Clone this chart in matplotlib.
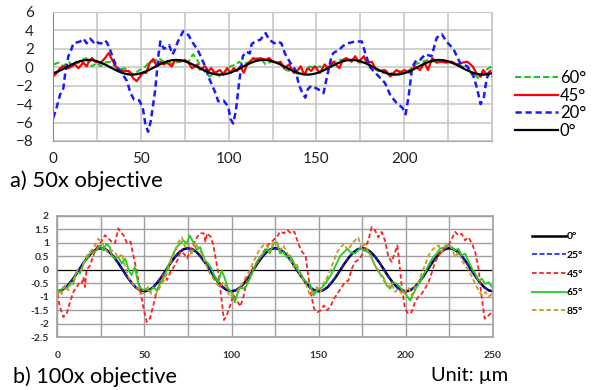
import matplotlib
matplotlib.use("Agg")
import matplotlib.pyplot as plt

plt.rcParams['font.family'] = ['Lato', 'DejaVu Sans']

# ---------- a) 50x objective ----------
top_labels = ['60°', '45°', '20°', '0°']

# 0 deg reference (step 2.5 um)
x0_top = [i * 2.5 for i in range(101)]
y0_top = [-0.65, -0.47, -0.25, 0.0, 0.25, 0.47, 0.65, 0.76, 0.8, 0.76,
          0.65, 0.47, 0.25, 0.0, -0.25, -0.47, -0.65, -0.76, -0.8, -0.76,
          -0.65, -0.47, -0.25, 0.0, 0.25, 0.47, 0.65, 0.76, 0.8, 0.76,
          0.65, 0.47, 0.25, 0.0, -0.25, -0.47, -0.65, -0.76, -0.8, -0.76,
          -0.65, -0.47, -0.25, 0.0, 0.25, 0.47, 0.65, 0.76, 0.8, 0.76,
          0.65, 0.47, 0.25, 0.0, -0.25, -0.47, -0.65, -0.76, -0.8, -0.76,
          -0.65, -0.47, -0.25, 0.0, 0.25, 0.47, 0.65, 0.76, 0.8, 0.76,
          0.65, 0.47, 0.25, 0.0, -0.25, -0.47, -0.65, -0.76, -0.8, -0.76,
          -0.65, -0.47, -0.25, 0.0, 0.25, 0.47, 0.65, 0.76, 0.8, 0.76,
          0.65, 0.47, 0.25, 0.0, -0.25, -0.47, -0.65, -0.76, -0.8, -0.76,
          -0.65]

x20_top = [0, 2, 3.8, 5.7, 6.7, 8.6, 10, 11.5, 13.5, 15.3, 17.3, 19, 21, 23, 24, 26, 27.5,
           29.5, 30.5, 32, 34, 36, 39, 42, 44, 46, 49, 51, 52.5, 54, 55.5, 58, 60, 61, 63,
           65, 66, 68, 69.5, 71, 74, 77, 79, 80.8, 82, 84, 86.5, 89, 92, 94, 97, 99, 100,
           101, 102.5, 104, 106, 108, 110, 112, 113, 115, 118, 121, 123, 126, 128, 130,
           132, 135, 138, 140, 142, 143.6, 145, 147, 150, 152, 154, 156, 158.7, 160, 163,
           165, 168, 172, 175.8, 177.7, 180.5, 183, 186, 189, 192, 195.7, 199, 200.8,
           202.6, 204.5, 207, 209, 212, 215.6, 218.5, 221.4, 224, 228, 232, 236, 239.5,
           241.5, 243.5, 245.3, 247, 248.6, 250]
y20_top = [-5.5, -4.3, -3.0, -2.3, -0.8, 1.2, 1.8, 2.6, 2.7, 2.8, 3.1, 2.6, 3.1, 2.7, 2.9, 2.6, 2.6,
           2.9, 2.7, 2.1, 1.0, 0.1, -0.6, -1.5, -2.8, -3.5, -3.6, -4.4, -6.2, -7.0, -5.9, -2.6, 1.4,
           2.8, 2.0, 2.2, 2.4, 1.4, 2.0, 2.8, 3.9, 3.5, 2.8, 2.3, 2.0, 1.2, 0.1, -1.3, -2.6, -3.7,
           -3.6, -4.1, -4.6, -5.6, -6.1, -4.8, -1.5, 1.2, 1.7, 1.5, 2.5, 2.8, 3.0, 3.7, 3.0, 2.6,
           2.8, 2.6, 1.5, 0.5, -0.3, -1.9, -2.8, -3.3, -2.4, -2.0, -2.3, -2.5, -2.8, -1.0, 1.3,
           1.6, 1.9, 2.3, 2.6, 2.8, 2.8, 1.6, 0.0, -0.5, -1.1, -1.7, -3.0, -3.9, -4.4, -5.1, -3.0,
           0.0, 0.8, 0.8, 1.4, 1.2, 3.2, 3.6, 2.8, 2.0, 0.4, 0.1, -1.0, -2.3, -4.0, -3.3, -1.2,
           -0.6, -1.0]

x45_top = [0, 2, 3.8, 5.7, 8.6, 10.5, 12.4, 14.3, 17.1, 19, 20, 22, 24, 27, 29.5, 31.6, 33.5,
           35, 37, 40, 43, 45.6, 47.5, 49.5, 51, 53, 55, 57, 59, 61, 63, 64.6, 67.5, 69.5, 72,
           75, 77, 79, 80.8, 82, 83.6, 86.5, 88.4, 90, 92, 95, 97, 99, 101, 102.8, 104.7, 106.6,
           108.5, 110.5, 112, 114, 116, 118, 121, 123, 125, 128, 129.5, 131.5, 134.4, 137, 139,
           141, 143, 145, 147, 149, 152, 154.6, 156.5, 159.5, 161, 163, 165, 167, 170, 172,
           174, 177, 178.6, 181.5, 183.5, 186, 189, 192, 194, 195.7, 197.6, 200, 203, 206,
           209, 211.6, 213.5, 216, 218.4, 221, 224, 227, 230, 233, 236, 239, 241, 243.4, 245,
           247, 249]
y45_top = [-1.0, -0.6, -0.1, 0.1, -0.1, 0.1, 0.3, -0.1, 0.5, 0.1, 0.5, 1.0, 0.6, 0.5, 1.0, 1.55,
           0.8, 0.3, -0.25, -0.4, -0.4, -1.2, -1.5, -1.0, -0.6, -0.6, 0.5, 0.9, 0.1, 0.6, 0.3,
           0.5, 0.1, 0.8, 0.6, 0.8, 0.5, -0.1, 0.1, 0.3, -0.25, 0.1, -0.4, -0.1, -0.6, -0.3, -0.8,
           -0.1, -0.6, -0.1, -0.4, 0.1, -0.6, 0.3, 0.6, 1.0, 0.8, 1.0, 0.8, 1.0, 0.6, 0.5, 0.6,
           -0.1, 0.3, -0.6, -0.4, 0.1, -0.8, -0.1, -0.4, 0.1, -0.6, 0.3, -0.1, 0.6, 0.3, -0.1,
           0.8, 1.0, 0.6, 1.2, 0.6, 1.2, 0.5, 0.6, -0.1, -0.4, -0.3, -1.0, -0.6, -0.3, -0.6,
           -0.3, -0.6, 0.1, -0.3, 0.5, -0.3, 1.0, 0.5, 0.6, 0.5, 0.6, 0.3, 0.5, 0.6, 0.1, -0.6,
           -1.0, -0.3, -0.8, -0.4]

x60_top = [0, 3, 5.7, 8.6, 11.5, 13, 16, 18, 20, 22, 25, 27, 29, 32, 35, 37.6, 40.5, 43, 46,
           49, 51.6, 54.5, 57, 60, 63, 66, 68.5, 71, 74, 77, 79.6, 81.5, 83.6, 86.5, 89, 92, 95,
           98, 101, 104, 106, 108, 110.5, 113, 116, 119, 121, 124, 127, 130, 132.5, 135, 138,
           141, 144, 146, 149, 152, 154.6, 157.5, 160.5, 163, 167, 171, 174.6, 177.7, 181.5,
           185, 188, 191, 194, 197, 200, 203, 206, 210, 214, 216, 220, 223, 227, 230, 233,
           237, 240, 243, 245, 248, 250]
y60_top = [0.3, 0.5, 0.1, 0.6, 0.1, 0.6, 0.3, 1.2, 0.6, 0.1, 0.5, 0.1, 0.5, 0.6, 0.1, -0.25,
           -0.1, -0.4, -0.8, -0.3, -0.1, 0.5, 0.6, 1.0, 0.6, 0.5, 0.3, 0.6, 0.8, 0.6, 1.4, 1.0,
           0.2, -0.5, -1.0, -0.6, -1.0, -0.4, 0.1, 0.3, 0.6, 0.3, 0.5, 0.6, 1.0, 0.8, 0.3, 0.6,
           0.5, 0.3, -0.3, -0.4, -0.6, -0.8, -0.6, 0.1, -0.1, 0.1, -0.3, 0.3, 0.6, 0.8, 0.8,
           0.8, 0.5, 0.6, 0.1, -0.4, -0.6, -0.4, -0.8, -0.4, -0.6, -0.3, 0.3, 0.6, 0.8, 0.6,
           0.8, 0.6, 0.5, 0.3, 0.1, -0.3, -0.8, -1.3, -0.6, -0.1, 0.1]

# ---------- b) 100x objective ----------
bot_labels = ['0°', '25°', '45°', '65°', '85°']

x0_bot = [i * 2.5 for i in range(101)]
y0_bot = [-0.8, -0.76, -0.65, -0.47, -0.25, 0.0, 0.25, 0.47, 0.65, 0.76,
          0.8, 0.76, 0.65, 0.47, 0.25, 0.0, -0.25, -0.47, -0.65, -0.76,
          -0.8, -0.76, -0.65, -0.47, -0.25, 0.0, 0.25, 0.47, 0.65, 0.76,
          0.8, 0.76, 0.65, 0.47, 0.25, 0.0, -0.25, -0.47, -0.65, -0.76,
          -0.8, -0.76, -0.65, -0.47, -0.25, 0.0, 0.25, 0.47, 0.65, 0.76,
          0.8, 0.76, 0.65, 0.47, 0.25, 0.0, -0.25, -0.47, -0.65, -0.76,
          -0.8, -0.76, -0.65, -0.47, -0.25, 0.0, 0.25, 0.47, 0.65, 0.76,
          0.8, 0.76, 0.65, 0.47, 0.25, 0.0, -0.25, -0.47, -0.65, -0.76,
          -0.8, -0.76, -0.65, -0.47, -0.25, 0.0, 0.25, 0.47, 0.65, 0.76,
          0.8, 0.76, 0.65, 0.47, 0.25, 0.0, -0.25, -0.47, -0.65, -0.76,
          -0.8]

x25_bot = [i * 2.5 for i in range(101)]
y25_bot = [-0.78, -0.75, -0.64, -0.46, -0.23, 0.02, 0.26, 0.48, 0.66, 0.77,
           0.79, 0.75, 0.63, 0.46, 0.23, -0.02, -0.26, -0.48, -0.66, -0.76,
           -0.79, -0.75, -0.63, -0.45, -0.23, 0.02, 0.26, 0.48, 0.66, 0.77,
           0.79, 0.75, 0.64, 0.46, 0.24, -0.01, -0.26, -0.48, -0.66, -0.77,
           -0.79, -0.75, -0.64, -0.46, -0.24, 0.01, 0.26, 0.48, 0.66, 0.77,
           0.79, 0.75, 0.64, 0.46, 0.24, -0.01, -0.26, -0.48, -0.66, -0.77,
           -0.79, -0.75, -0.64, -0.46, -0.24, 0.01, 0.26, 0.48, 0.66, 0.77,
           0.79, 0.75, 0.64, 0.46, 0.24, -0.01, -0.26, -0.48, -0.66, -0.77,
           -0.79, -0.75, -0.64, -0.46, -0.24, 0.01, 0.26, 0.48, 0.66, 0.77,
           0.79, 0.75, 0.64, 0.46, 0.24, -0.01, -0.26, -0.48, -0.66, -0.77,
           -0.79]

x45_bot = [0, 1.5, 3.5, 5.4, 7.3, 9.2, 11.1, 13, 14, 15, 15.9, 16.8, 18.8, 20.7, 22.6, 24.5,
           27.4, 29.3, 31.2, 33.1, 35, 36, 38, 40, 42, 44, 45.8, 47.8, 49.7, 51.3, 53.2, 55.4,
           57.4, 59.3, 61, 63, 65, 67, 69, 70.7, 72.6, 74.5, 76.5, 78.4, 80.3, 82, 84, 85, 86,
           88, 89.5, 90.5, 92.4, 94.3, 95.6, 97, 99, 101, 103, 105, 106.8, 108.7, 110.6, 112.5,
           115.4, 117.3, 119, 121, 123, 126, 128, 130, 132, 134, 136, 138.7, 140.6, 142.5,
           143.4, 145.4, 147.3, 149.2, 151.1, 153, 155, 157, 158.8, 160.7, 162.6, 165, 167,
           169, 170.8, 173.7, 176.5, 178.5, 180.4, 182.3, 184.2, 186.1, 188, 190, 191.9,
           193.8, 195.1, 196, 197.6, 199.5, 201.4, 203.3, 205.2, 207.2, 209, 211, 213, 215,
           216.8, 218.8, 221.6, 224.5, 226.4, 228.3, 230.2, 232, 234, 236, 238, 239.8, 241.7,
           243.6, 245.2, 247.5, 249.4, 250]
y45_bot = [-0.89, -1.38, -1.75, -1.63, -1.2, -0.83, -0.64, -0.45, -0.5, -0.27, -0.64, 0.0,
           0.16, 0.53, 0.84, 0.96, 1.28, 1.16, 1.04, 0.98, 1.53, 1.41, 1.28, 0.98, 1.04, 0.42,
           -0.13, -0.87, -1.49, -1.93, -1.8, -1.24, -0.75, -0.38, -0.2, -0.38, -0.07, 0.11,
           0.36, 0.67, 0.6, 0.42, 0.73, 0.98, 1.22, 1.35, 1.35, 1.04, 1.35, 1.22, 0.92, 0.55,
           -0.13, -1.12, -1.86, -1.73, -1.36, -0.93, -1.12, -1.36, -1.0, -0.44, -0.2, 0.11,
           0.3, 0.55, 0.73, 0.92, 1.04, 1.22, 1.41, 1.35, 1.47, 1.35, 1.41, 0.9, 0.65, 0.53,
           0.04, -0.83, -1.44, -1.57, -1.5, -1.32, -1.5, -1.32, -1.07, -0.89, -0.7, -0.46,
           -0.4, 0.04, 0.29, 0.41, 0.78, 1.09, 1.58, 1.46, 1.2, 1.4, 1.09, 0.47, 0.29, 0.65,
           0.9, 0.41, -0.58, -1.44, -1.63, -1.57, -1.2, -1.0, -0.89, -0.7, -0.46, -0.08, 0.29,
           0.53, 0.78, 0.9, 1.15, 1.4, 1.27, 1.33, 1.09, 1.2, 0.96, 0.65, 0.04, -1.07, -1.81,
           -1.69, -1.57, -1.57]

x65_bot = [0, 1.5, 3.5, 5.4, 7.3, 9.2, 11, 13, 15, 16.8, 18.8, 20.7, 22.6, 24.5, 26.4, 28.3,
           30.2, 31.2, 33, 35, 37, 39, 41, 42.6, 44.5, 46.5, 47.4, 49.4, 51.2, 53, 55, 57, 59,
           60.8, 62.7, 64.6, 66.6, 68.5, 70.4, 72.3, 74.2, 76, 78, 80, 81.9, 84.7, 86.6, 88.5,
           90.5, 92.4, 94.3, 96.2, 98, 100, 101.9, 103, 104.8, 106.7, 108.6, 110.5, 112.5,
           114.4, 116.3, 118.2, 120.1, 122, 124, 126, 127.8, 129.7, 131.6, 133.5, 135.5,
           137.4, 139.3, 141.2, 143, 145, 147, 149, 151, 153, 155, 157, 158.8, 160.7, 162.6,
           164.6, 166.5, 168, 170.8, 173.7, 176.5, 179.4, 181.3, 183.2, 185.1, 187, 189, 191,
           192.8, 194.7, 196.6, 198.6, 200.5, 202.4, 204.3, 206.2, 208.2, 210, 212, 214,
           215.8, 217.7, 219.6, 222.5, 224.5, 226.4, 228.3, 230.2, 232.1, 234, 236, 238,
           239.8, 241.7, 243.6, 245.6, 247.5, 249.4, 250]
y65_bot = [-0.76, -0.82, -0.64, -0.7, -0.52, -0.52, -0.08, -0.14, 0.23, 0.41, 0.6, 0.66, 0.72,
           0.9, 0.72, 0.96, 0.84, 0.53, 0.41, 0.47, 0.23, 0.41, -0.02, -0.2, 0.1, -0.52, -0.64,
           -0.76, -0.7, -0.82, -0.64, -0.76, -0.52, -0.33, -0.02, 0.29, 0.6, 0.84, 0.96, 1.09,
           0.96, 1.27, 1.02, 0.72, 0.84, 0.35, 0.23, 0.04, -0.27, -0.46, -0.02, -0.33, -0.7,
           -0.82, -1.2, -0.95, -0.64, -0.7, -0.58, -0.33, -0.02, 0.29, 0.47, 0.6, 0.78, 0.6,
           0.96, 1.02, 0.6, 0.66, 0.47, 0.53, 0.29, 0.04, -0.08, -0.33, -0.46, -0.52, -0.95,
           -0.76, -0.7, -0.58, -0.39, -0.2, 0.04, 0.29, 0.53, 0.66, 0.78, 0.66, 0.6, 0.78,
           0.72, 0.6, 0.29, 0.04, -0.14, -0.27, -0.58, -0.7, -0.46, -0.52, -0.64, -0.82, -0.95,
           -1.14, -0.89, -0.64, -0.46, -0.2, 0.04, 0.29, 0.47, 0.6, 0.78, 0.84, 0.9, 0.84,
           0.72, 0.78, 0.53, 0.6, 0.29, 0.04, -0.14, -0.39, -0.33, -0.52, -0.46, -0.64, -0.66]

x85_bot = [0, 1.5, 2.5, 4.4, 6.3, 8.2, 10, 12, 14, 16, 17.8, 19.7, 21.6, 23.6, 25.5, 27.4,
           29.3, 31.2, 33, 35, 37, 38.9, 40.8, 42.6, 44.6, 46.5, 48.4, 50.3, 52.2, 54, 56, 58,
           59.9, 61.8, 63.7, 65.6, 67.5, 69.5, 71.4, 73.3, 75.2, 77, 79, 81, 82.9, 84.7, 86,
           87.6, 89.5, 91.4, 93.3, 95.3, 97.2, 99, 101, 103, 104.8, 106.7, 108.6, 110.5, 112.5,
           114.4, 116.3, 118.2, 120, 122, 124, 126, 127.8, 129.7, 131.6, 133.5, 135.5, 137.4,
           139.3, 141.2, 143, 145, 147, 149, 151, 153, 155, 157, 158.8, 160.7, 162.6, 164.6,
           166.5, 169.8, 172.7, 174.6, 176.5, 178.5, 180.4, 182.3, 184.2, 186, 188, 190, 191.9,
           193.8, 195.7, 197.6, 199.5, 201.4, 203.3, 205.2, 207.2, 209, 211, 213, 215, 216.8,
           218.8, 220.7, 222.6, 224.5, 226.4, 228.3, 230.2, 232, 234, 236, 238, 239.8, 241.7,
           243.6, 245.6, 247.5, 249.4]
y85_bot = [-0.95, -0.76, -0.89, -0.58, -0.76, -0.46, -0.27, 0.04, -0.02, 0.41, 0.6, 0.72, 0.9,
           1.15, 1.02, 0.78, 0.6, 0.72, 0.66, 0.41, 0.6, 0.1, -0.27, -0.46, -0.64, -0.7, -0.89,
           -0.82, -0.64, -0.89, -0.95, -0.76, -0.52, -0.33, -0.02, 0.41, 0.66, 1.02, 1.2, 0.84,
           0.96, 0.53, 1.02, 0.78, 0.6, 0.29, 0.1, -0.14, -0.33, -0.52, -0.64, -0.46, -0.7,
           -1.0, -0.89, -0.82, -0.64, -0.46, -0.2, -0.02, 0.29, 0.53, 0.78, 0.9, 0.96, 0.66,
           1.02, 0.96, 0.72, 0.9, 0.66, 0.41, 0.1, 0.23, -0.2, -0.39, -0.58, -0.95, -0.82,
           -0.64, -0.82, -0.46, -0.27, 0.04, 0.35, 0.66, 0.84, 0.96, 0.72, 1.02, 1.2, 0.78,
           0.96, 0.66, 0.41, 0.16, -0.02, -0.27, -0.46, -0.64, -0.52, -0.82, -0.7, -0.89, -0.82,
           -0.64, -0.95, -0.64, -0.46, -0.14, 0.16, 0.53, 0.72, 0.84, 0.9, 0.66, 0.9, 0.96,
           0.78, 0.47, 0.66, 0.35, 0.16, -0.02, -0.27, -0.52, -0.76, -0.95, -0.82, -1.0, -0.89]

fig = plt.figure(figsize=(5.98, 3.9), dpi=100)

# top chart
ax1 = fig.add_axes([0.0891, 0.6385, 0.7336, 0.3308])
l60, = ax1.plot(x60_top, y60_top, color='#22c322', lw=1.5, dashes=(3, 1.5))
l45, = ax1.plot(x45_top, y45_top, color='#ff0000', lw=1.6)
l20, = ax1.plot(x20_top, y20_top, color='#1a1aff', lw=1.8, dashes=(2.5, 1.5))
l0, = ax1.plot(x0_top, y0_top, color='black', lw=1.6)
ax1.set_xlim(0, 250)
ax1.set_ylim(-8, 6)
ax1.set_xticks([0, 50, 100, 150, 200])
ax1.set_xticks(range(0, 251, 25), minor=True)
ax1.set_yticks(range(-8, 7, 2))
ax1.grid(True, which='both', color='#c8c8c8', lw=1.2)
ax1.set_axisbelow(True)
ax1.tick_params(which='both', length=0, labelsize=11, colors='#222222')
ax1.tick_params(axis='y', pad=14)
ax1.tick_params(axis='x', pad=8)
for s in ax1.spines.values():
    s.set_color('#c8c8c8')
ax1.spines['left'].set_color('#8a8a8a')
ax1.spines['bottom'].set_color('#a8a8a8')
fig.legend([l60, l45, l20, l0], top_labels, loc='upper left',
           bbox_to_anchor=(515 / 598, 1 - 70 / 390), frameon=False, fontsize=12,
           handlelength=2.6, handletextpad=0.1, labelspacing=0.1, borderpad=0,
           borderaxespad=0)
fig.text(10 / 598, 1 - 181 / 390, 'a) 50x objective', fontsize=15.8, va='center')

# bottom chart
ax2 = fig.add_axes([0.0958, 0.1351, 0.7286, 0.3118])
b0, = ax2.plot(x0_bot, y0_bot, color='black', lw=1.8)
b25, = ax2.plot(x25_bot, y25_bot, color='#1a1aff', lw=1.2, dashes=(3, 1.5))
b45, = ax2.plot(x45_bot, y45_bot, color='#ff2020', lw=1.3, dashes=(2.5, 1.5))
b65, = ax2.plot(x65_bot, y65_bot, color='#22cc22', lw=1.3)
b85, = ax2.plot(x85_bot, y85_bot, color='#c8962a', lw=1.3, dashes=(2.5, 1.5))
ax2.axhline(0, color='black', lw=0.8, zorder=1.5)
ax2.set_xlim(0, 250)
ax2.set_ylim(-2.5, 2)
ax2.set_xticks(range(0, 251, 50))
ax2.set_xticks(range(0, 251, 25), minor=True)
yt = [2, 1.5, 1, 0.5, 0, -0.5, -1, -1.5, -2, -2.5]
ax2.set_yticks(yt)
ax2.set_yticklabels(['2', '1.5', '1', '0.5', '0', '-0.5', '-1', '-1.5', '-2', '-2.5'])
ax2.grid(True, which='both', color='#a0a0a0', lw=1.0)
ax2.set_axisbelow(True)
ax2.tick_params(which='both', length=0, labelsize=7.5, colors='#333333')
ax2.tick_params(axis='y', pad=6)
ax2.tick_params(axis='x', pad=10)
for lab in ax2.get_xticklabels() + ax2.get_yticklabels():
    lab.set_fontweight('bold')
for s in ax2.spines.values():
    s.set_color('#a0a0a0')
    s.set_linewidth(1.2)
fig.legend([b0, b25, b45, b65, b85], bot_labels, loc='upper left',
           bbox_to_anchor=(532 / 598, 1 - 232 / 390), frameon=False,
           prop={'size': 7.5, 'weight': 'bold'},
           handlelength=3.3, handletextpad=0.05, labelspacing=0.9, borderpad=0,
           borderaxespad=0)
fig.text(13 / 598, 1 - 377 / 390, 'b) 100x objective', fontsize=15.6, va='center')
fig.text(431 / 598, 1 - 376 / 390, 'Unit: µm', fontsize=14.4, va='center')

fig.savefig('out.png', dpi=100)
